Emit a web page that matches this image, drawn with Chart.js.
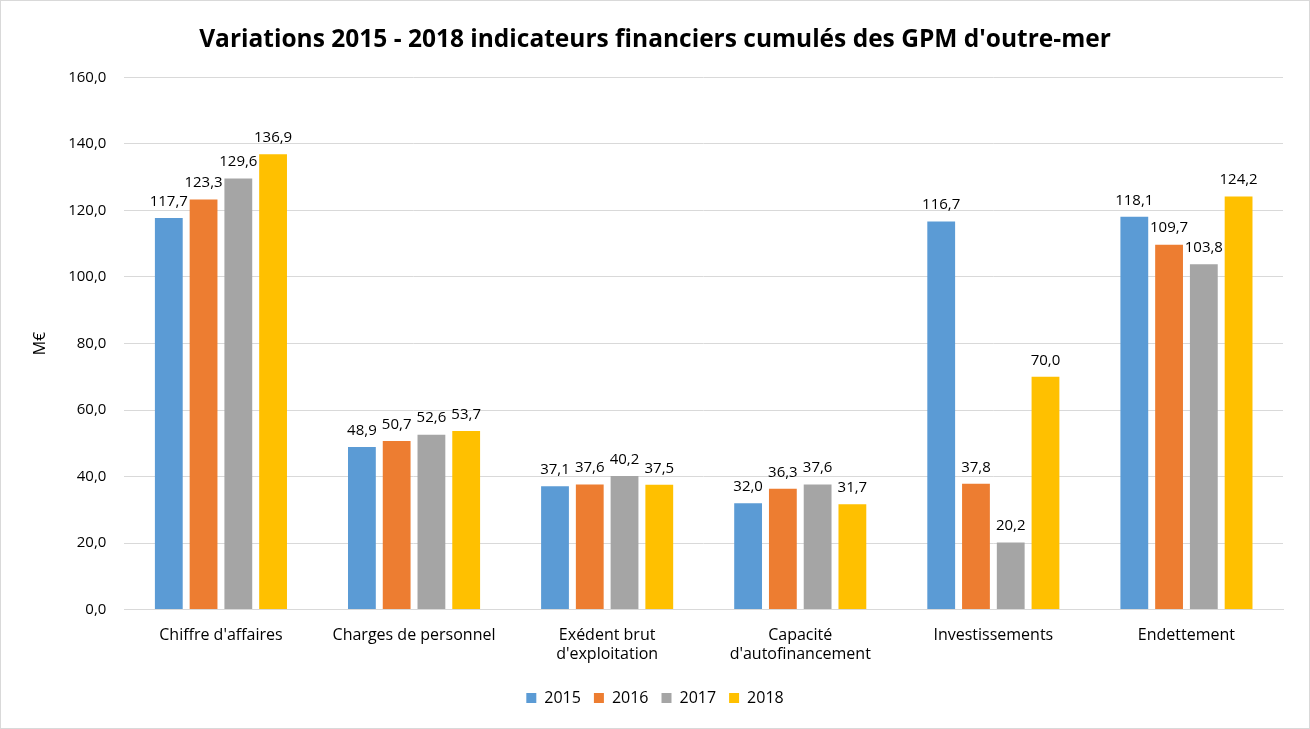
<!DOCTYPE html>
<html>
<head>
<meta charset="utf-8">
<script src="https://cdn.jsdelivr.net/npm/chart.js@4"></script>
<style>
  html, body { margin: 0; padding: 0; background: #fff; }
  .wrap { position: relative; width: 1308px; height: 727px; border: 1px solid #d9d9d9; }
</style>
</head>
<body>
<div class="wrap"><canvas id="myChart"></canvas></div>
<script>
const categories = [
  "Chiffre d'affaires",
  'Charges de personnel',
  ['Exédent brut', "d'exploitation"],
  ['Capacité', "d'autofinancement"],
  'Investissements',
  'Endettement'
]
const years = ['2015', '2016', '2017', '2018']
const v2015 = [117.7, 48.9, 37.1, 32.0, 116.7, 118.1]
const v2016 = [123.3, 50.7, 37.6, 36.3, 37.8, 109.7]
const v2017 = [129.6, 52.6, 40.2, 37.6, 20.2, 103.8]
const v2018 = [136.9, 53.7, 37.5, 31.7, 70.0, 124.2]
const couleurs = ['#5B9BD5', '#ED7D31', '#A5A5A5', '#FFC000']

const fontFamily = "'Open Sans', 'Liberation Sans', sans-serif"
const fmt = v => v.toFixed(1).replace('.', ',')

// etiquettes au-dessus des barres
const labelsPlugin = {
  id: 'valeurs',
  afterDatasetsDraw(chart) {
    const c = chart.ctx
    c.save()
    c.font = '15px ' + fontFamily
    c.fillStyle = '#000'
    c.textAlign = 'center'
    c.textBaseline = 'bottom'
    chart.data.datasets.forEach((ds, i) => {
      chart.getDatasetMeta(i).data.forEach((bar, j) => {
        c.fillText(fmt(ds.data[j]), bar.x, bar.y - 9)
      })
    })
    c.restore()
  }
}

const ctx = document.getElementById('myChart')
new Chart(ctx, {
  type: 'bar',
  data: {
    labels: categories,
    datasets: [v2015, v2016, v2017, v2018].map((d, i) => ({
      label: years[i],
      data: d,
      backgroundColor: couleurs[i],
      categoryPercentage: 0.72,
      barPercentage: 0.8
    }))
  },
  options: {
    responsive: true,
    maintainAspectRatio: false,
    animation: false,
    layout: { padding: { left: 26, right: 26, top: 14, bottom: 12 } },
    plugins: {
      title: {
        display: true,
        text: "Variations 2015 - 2018 indicateurs financiers cumulés des GPM d'outre-mer",
        color: '#000',
        font: { family: fontFamily, size: 24.5, weight: 'bold' },
        padding: { top: 10, bottom: 23 }
      },
      legend: {
        position: 'bottom',
        labels: {
          color: '#000',
          font: { family: fontFamily, size: 16 },
          boxWidth: 10,
          boxHeight: 10,
          padding: 13
        }
      },
      tooltip: { enabled: false }
    },
    scales: {
      x: {
        grid: { display: false, drawTicks: false },
        border: { color: '#d9d9d9' },
        afterFit: scale => { scale.height -= 3 },
        ticks: {
          color: '#000',
          font: { family: fontFamily, size: 16 },
          maxRotation: 0,
          padding: 16
        }
      },
      y: {
        min: 0,
        max: 160,
        title: {
          display: true,
          text: 'M€',
          color: '#000',
          font: { family: fontFamily, size: 16 },
          padding: { top: 4, bottom: 0 }
        },
        grid: { color: '#d9d9d9', drawTicks: false },
        border: { display: false },
        ticks: {
          stepSize: 20,
          color: '#000',
          font: { family: fontFamily, size: 15 },
          padding: 18,
          callback: v => fmt(v)
        }
      }
    }
  },
  plugins: [labelsPlugin]
})
</script>
</body>
</html>
